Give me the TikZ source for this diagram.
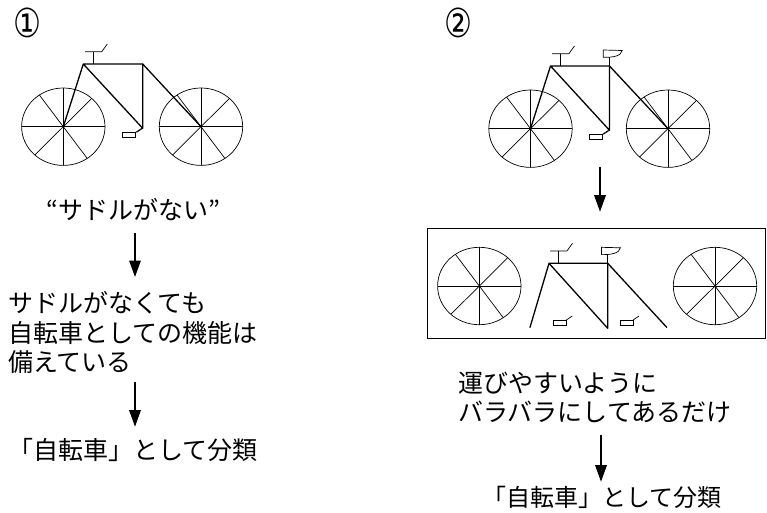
\documentclass[tikz,border=0pt]{standalone}
\usepackage{fontspec}
\usepackage{graphicx}
\newfontfamily\jpfont{Noto Sans CJK JP}
\newfontfamily\symfont{DejaVu Sans}
\usetikzlibrary{arrows.meta}

\tikzset{
  frame/.style={line width=1.3pt, line cap=round, line join=round},
  thinline/.style={line width=0.7pt},
  jtext/.style={font=\jpfont\fontsize{25}{30}\selectfont, inner sep=0pt},
  jsmall/.style={font=\jpfont\fontsize{24}{30}\selectfont, inner sep=0pt},
  num/.style={font=\symfont\fontsize{40}{40}\selectfont, inner sep=0pt},
  flow/.style={line width=1.5pt, -{Triangle[length=16.5pt,width=11.5pt]}},
  % spoked wheel, centred on the hub
  wheel/.pic={
    \draw[thinline] (0,0) ellipse [x radius=41.7, y radius=38.7];
    \foreach \t in {0,-47,-90,-125,180,133,90,55}
      \draw[thinline] (0,0) -- (\t:41.7 and 38.7);
  },
  % pedal, origin at the top left corner of its plate
  pedal/.pic={
    \draw[thinline] (0,0) rectangle (13,5);
    \draw[thinline] (13,0) -- (19,-4);
  },
  % handlebar, origin where the stem meets the top tube
  handlebar/.pic={
    \draw[thinline] (0,0) -- (0,-12.3);
    \draw[thinline] (-8.3,-12.3) -- (8.4,-12.3) -- (14,-20);
  },
  % saddle, origin where the seat post meets the top tube
  saddle/.pic={
    \draw[thinline] (0,0) -- (0,-8.7);
    \draw[thinline] (-6.3,-16) -- (12.7,-15.5)
      .. controls (11.5,-10) and (4,-8.5) .. (-6.3,-8.7) -- cycle;
  },
}

\begin{document}
\begin{tikzpicture}[x=1pt,y=-1pt]
\useasboundingbox (0,0) rectangle (767,512);

% ---------- case 1: bicycle without a saddle ----------
\node[num] (n1) at (27.5,23.3) {\scalebox{0.78}[1]{①}};

\coordinate (w1a) at (63.3,126.7);
\coordinate (w1b) at (201,126.7);
\coordinate (h1) at (83.3,64);
\coordinate (s1) at (142.7,64);
\coordinate (b1) at (142.7,128.3);
\pic at (w1a) {wheel};
\pic at (w1b) {wheel};
\draw[frame] (w1a) -- (h1) -- (s1) -- (b1) -- (h1);
\draw[frame] (s1) -- (w1b);
\pic at (93.3,64) {handlebar};
\pic at (122.7,132.3) {pedal};
\draw[thinline] (136.7,132.3) -- (b1);

\node[jtext, anchor=base] (q1) at (133,219.5) {“サドルがない”};
\node[jtext, anchor=base west] (l1) at (8,312) {サドルがなくても};
\node[jtext, anchor=base west] (l2) at (8,342) {自転車としての機能は};
\node[jtext, anchor=base west] (l3) at (8,371.5) {備えている};
\node[jtext, anchor=base west] (l4) at (8,459.5) {「自転車」として分類};

\coordinate (a1s) at (135,233);
\coordinate (a1e) at (135,277);
\coordinate (a2s) at (135,381.7);
\coordinate (a2e) at (135,426.7);
\draw[flow] (a1s) -- (a1e);
\draw[flow] (a2s) -- (a2e);

% ---------- case 2: complete bicycle, then taken apart ----------
\node[num] (n2) at (458.3,23.3) {\scalebox{0.78}[1]{②}};

\coordinate (w2a) at (530.5,128.7);
\coordinate (w2b) at (668,128.7);
\coordinate (h2) at (550.5,66);
\coordinate (s2) at (609.5,66);
\coordinate (b2) at (609.5,130.3);
\pic at (w2a) {wheel};
\pic at (w2b) {wheel};
\draw[frame] (w2a) -- (h2) -- (s2) -- (b2) -- (h2);
\draw[frame] (s2) -- (w2b);
\pic at (560.5,66) {handlebar};
\pic at (s2) {saddle};
\pic at (589.5,134.3) {pedal};
\draw[thinline] (603.5,134.3) -- (b2);

\coordinate (b1s) at (600,167.3);
\coordinate (b1e) at (600,211.7);
\draw[flow] (b1s) -- (b1e);

% parts laid out in a frame
\draw[line width=0.9pt] (427.5,228) rectangle (765.5,338.3);
\pic at (479.3,286) {wheel};
\pic at (715,286) {wheel};
\coordinate (h3) at (549,263.3);
\coordinate (s3) at (607.7,263.3);
\coordinate (b3) at (607.7,328.3);
\coordinate (f3) at (530,327.3);
\coordinate (r3e) at (666.7,327.3);
\draw[frame] (f3) -- (h3) -- (s3) -- (b3) -- (h3);
\draw[frame] (s3) -- (r3e);
\pic at (558.5,263.3) {handlebar};
\pic at (s3) {saddle};
\pic at (553.3,320) {pedal};
\pic at (620,320) {pedal};

\node[jtext, anchor=base west] (r1) at (458,392) {運びやすいように};
\node[jtext, anchor=base west] (r2) at (458,421.5) {バラバラにしてあるだけ};
\node[jsmall, anchor=base west] (r3) at (482,506.5) {「自転車」として分類};

\coordinate (b2s) at (601,435);
\coordinate (b2e) at (601,481.7);
\draw[flow] (b2s) -- (b2e);
\end{tikzpicture}
\end{document}
